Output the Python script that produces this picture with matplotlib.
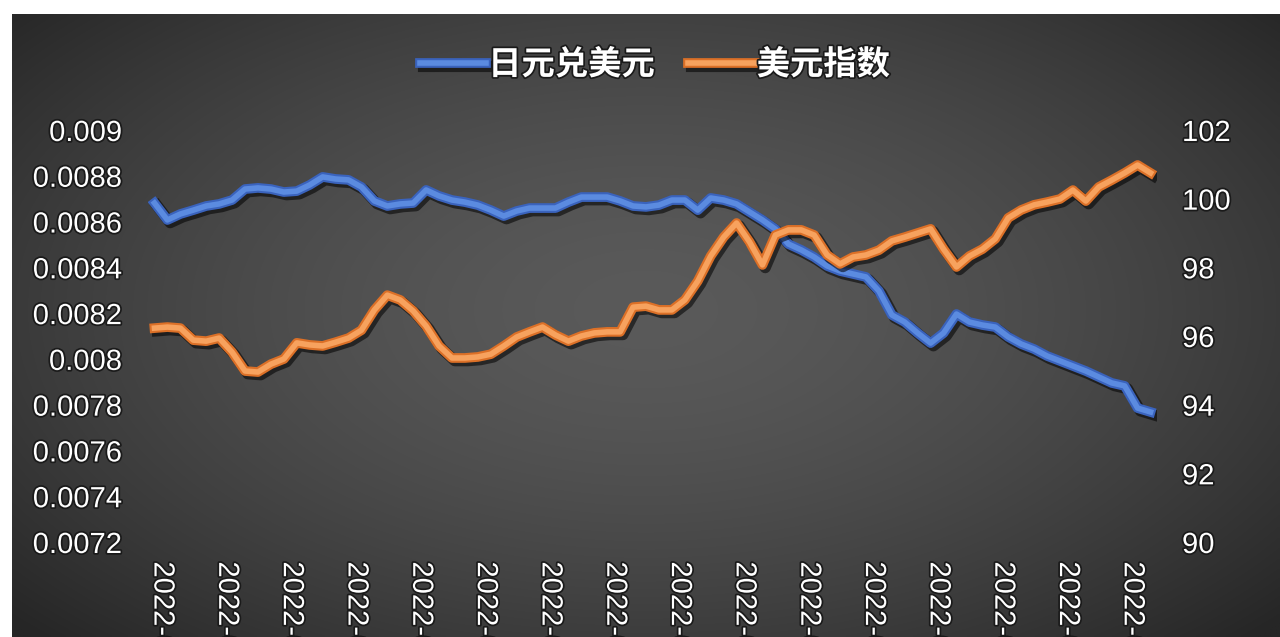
import numpy as np
import matplotlib
matplotlib.use('Agg')
import matplotlib.pyplot as plt
import matplotlib.patheffects as pe
from matplotlib.transforms import ScaledTranslation

plt.rcParams['font.family'] = ['Liberation Sans', 'Noto Sans CJK SC', 'DejaVu Sans']

# 日元兑美元 (left axis)
jpy_usd = [0.008681, 0.008607, 0.008633, 0.008650, 0.008668, 0.008677, 0.008694, 0.008742,
           0.008747, 0.008742, 0.008729, 0.008733, 0.008760, 0.008795, 0.008786, 0.008782,
           0.008751, 0.008690, 0.008668, 0.008677, 0.008681, 0.008738, 0.008712, 0.008694,
           0.008685, 0.008672, 0.008650, 0.008624, 0.008646, 0.008659, 0.008659, 0.008659,
           0.008685, 0.008707, 0.008707, 0.008707, 0.008690, 0.008668, 0.008664, 0.008672,
           0.008694, 0.008694, 0.008650, 0.008703, 0.008694, 0.008677, 0.008642, 0.008607,
           0.008567, 0.008502, 0.008476, 0.008445, 0.008406, 0.008384, 0.008371, 0.008358,
           0.008297, 0.008192, 0.008161, 0.008113, 0.008069, 0.008113, 0.008196, 0.008161,
           0.008148, 0.008139, 0.008096, 0.008065, 0.008043, 0.008013, 0.007991, 0.007969,
           0.007947, 0.007921, 0.007895, 0.007882, 0.007785, 0.007768]

# 美元指数 (right axis)
usd_index = [96.23, 96.26, 96.23, 95.88, 95.85, 95.94, 95.53, 94.98, 94.95, 95.18, 95.33, 95.80,
             95.74, 95.71, 95.82, 95.94, 96.17, 96.76, 97.19, 97.05, 96.73, 96.29, 95.71, 95.36,
             95.36, 95.39, 95.47, 95.71, 95.97, 96.12, 96.26, 96.03, 95.85, 96.00, 96.09, 96.12,
             96.12, 96.84, 96.87, 96.76, 96.76, 97.05, 97.60, 98.33, 98.88, 99.29, 98.74, 98.07,
             98.94, 99.09, 99.09, 98.94, 98.36, 98.10, 98.30, 98.36, 98.50, 98.77, 98.88, 99.00,
             99.12, 98.53, 98.01, 98.33, 98.53, 98.83, 99.44, 99.67, 99.82, 99.90, 99.99, 100.25,
             99.93, 100.34, 100.54, 100.75, 100.98, 100.75]

date_labels = ['2022-01-04', '2022-01-11', '2022-01-18', '2022-01-25', '2022-02-08', '2022-02-15',
               '2022-02-22', '2022-03-01', '2022-03-08', '2022-03-15', '2022-03-22', '2022-03-29',
               '2022-04-06', '2022-04-13', '2022-04-20', '2022-04-27']

left_ticks = [0.0072, 0.0074, 0.0076, 0.0078, 0.008, 0.0082, 0.0084, 0.0086, 0.0088, 0.009]
left_tick_labels = ['0.0072', '0.0074', '0.0076', '0.0078', '0.008', '0.0082', '0.0084',
                    '0.0086', '0.0088', '0.009']
right_ticks = [90, 92, 94, 96, 98, 100, 102]

W, H = 1280, 637
fig = plt.figure(figsize=(W / 100, H / 100), dpi=100)
fig.patch.set_facecolor('white')

# dark radial background
bg = fig.add_axes([12 / W, 0, (W - 12) / W, (H - 14) / H])
bg.set_axis_off()
gx, gy = np.meshgrid(np.linspace(-1, 1, 400), np.linspace(-1, 1, 200))
r = np.sqrt((gx * 1.0) ** 2 + ((gy + 0.05) * 0.9) ** 2) / 1.35
shade = 0x5a - (0x5a - 0x26) * np.clip(r, 0, 1) ** 1.6
img = np.dstack([shade, shade, shade]) / 255.0
bg.imshow(img, aspect='auto', extent=[0, 1, 0, 1], interpolation='bilinear')
bg.set_xlim(0, 1)
bg.set_ylim(0, 1)

ax = fig.add_axes([148 / W, 1 - 542 / H, (1157 - 148) / W, 412 / H])
ax.patch.set_alpha(0)
ax2 = ax.twinx()

x = np.arange(len(jpy_usd))


def line_fx(edge):
    return [pe.SimpleLineShadow(offset=(2, -2), shadow_color='black', alpha=0.55, linewidth=8),
            pe.Stroke(linewidth=7, foreground=edge),
            pe.Normal()]


l1, = ax.plot(x, jpy_usd, color='#5b8be0', lw=4, label='日元兑美元',
              solid_joinstyle='round', path_effects=line_fx('#3a63bd'))
l2, = ax2.plot(x, usd_index, color='#f7a25e', lw=4, label='美元指数',
               solid_joinstyle='round', path_effects=line_fx('#dc7027'))

ax.set_xlim(-0.5, len(jpy_usd) - 0.5)
ax.set_ylim(0.0072, 0.009)
ax2.set_ylim(90, 102)

txt_fx = [pe.withStroke(linewidth=2.5, foreground='#1a1a1a')]

ax.set_yticks(left_ticks)
ax.set_yticklabels(left_tick_labels)
ax2.set_yticks(right_ticks)
ax.set_xticks(x[::5])
ax.set_xticklabels(date_labels, rotation=-90, va='top', ha='center')

for a in (ax, ax2):
    for s in a.spines.values():
        s.set_visible(False)
    a.tick_params(length=0, colors='white', labelsize=21)
ax.tick_params(axis='y', pad=19)
ax2.tick_params(axis='y', pad=18)
ax.tick_params(axis='x', pad=14)

offset = ScaledTranslation(8 / 100, 0, fig.dpi_scale_trans)
for lab in ax.get_xticklabels():
    lab.set_transform(lab.get_transform() + offset)
for lab in ax.get_xticklabels() + ax.get_yticklabels() + ax2.get_yticklabels():
    lab.set_path_effects(txt_fx)

leg = fig.legend(handles=[l1, l2], loc='center', bbox_to_anchor=(655 / W, 1 - 65 / H),
                 ncol=2, frameon=False, handlelength=2.0, columnspacing=1.0,
                 handletextpad=0.05, prop={'family': ['Noto Sans CJK SC'], 'size': 24,
                                           'weight': 'bold'})
for t in leg.get_texts():
    t.set_color('white')
    t.set_path_effects(txt_fx)

fig.savefig('out.png', dpi=100, facecolor='white')
